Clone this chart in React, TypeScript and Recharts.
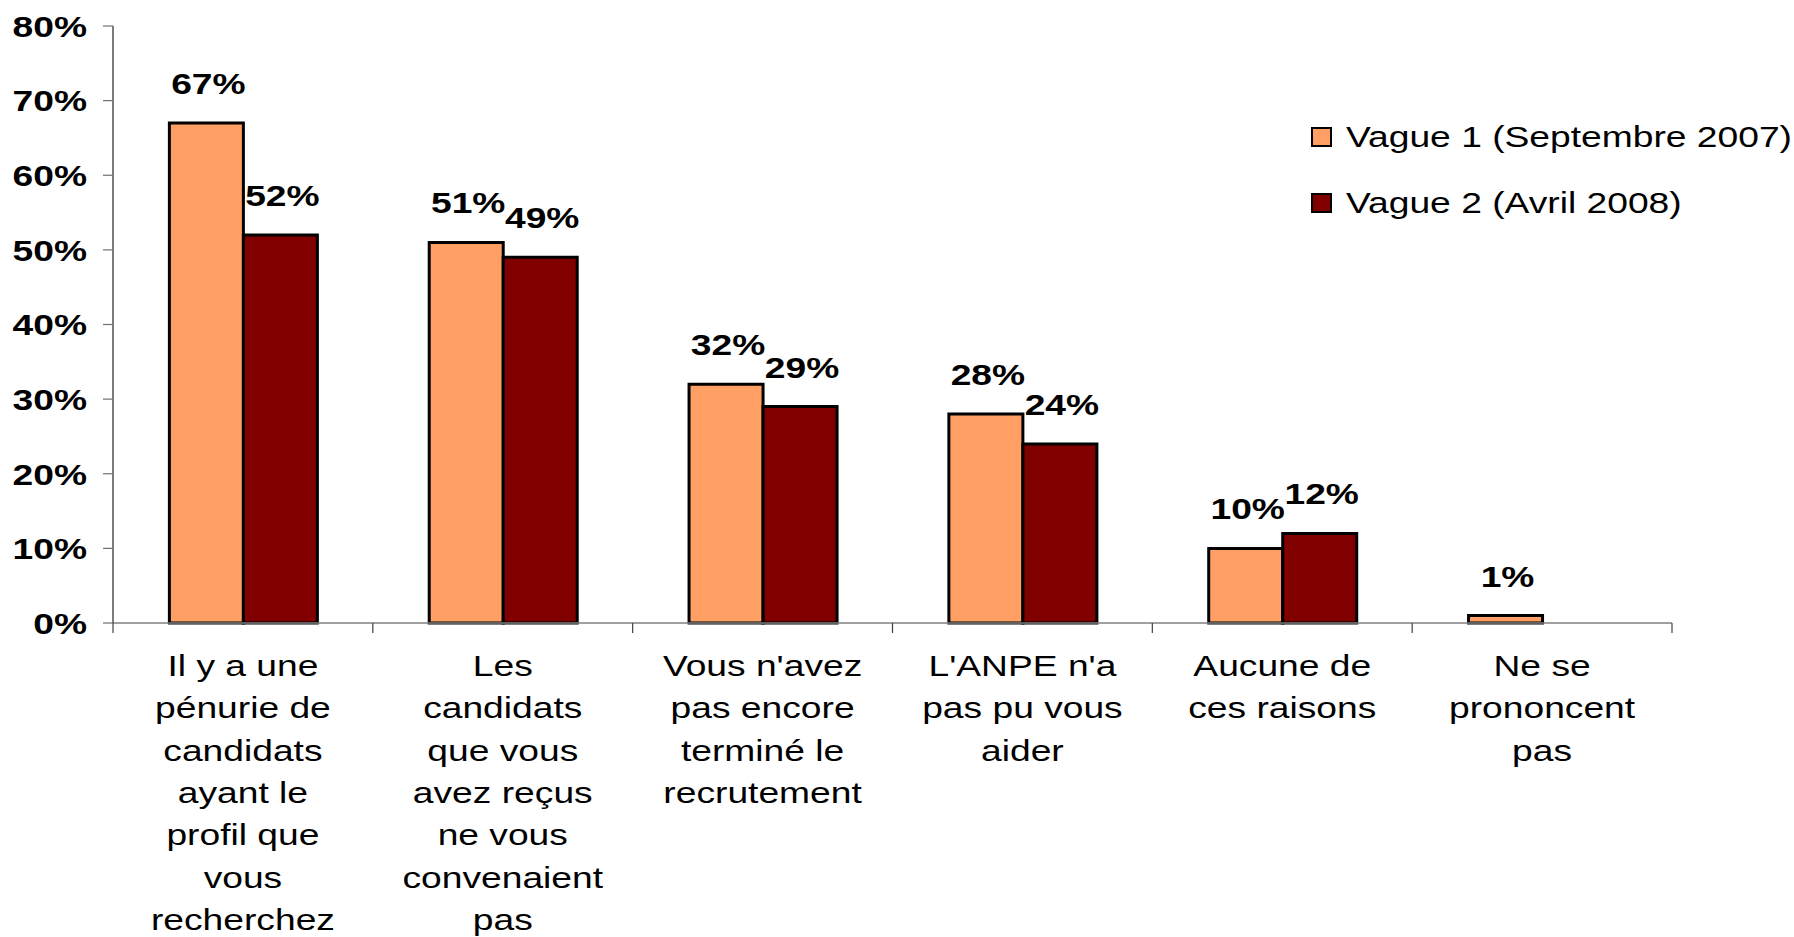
import React from 'react';
import { BarChart, Bar, XAxis, YAxis, Legend, LabelList } from 'recharts';

const categoryLines: string[][] = [
  ['Il y a une', 'pénurie de', 'candidats', 'ayant le', 'profil que', 'vous', 'recherchez'],
  ['Les', 'candidats', 'que vous', 'avez reçus', 'ne vous', 'convenaient', 'pas'],
  ["Vous n'avez", 'pas encore', 'terminé le', 'recrutement'],
  ["L'ANPE n'a", 'pas pu vous', 'aider'],
  ['Aucune de', 'ces raisons'],
  ['Ne se', 'prononcent', 'pas'],
];
const categories = categoryLines.map((l) => l.join(' '));
const vague1: (number | null)[] = [67, 51, 32, 28, 10, 1];
const vague2: (number | null)[] = [52, 49, 29, 24, 12, null];
const yTicks = [0, 10, 20, 30, 40, 50, 60, 70, 80];
const seriesNames = ['Vague 1 (Septembre 2007)', 'Vague 2 (Avril 2008)'];
const seriesColors = ['#FF9F63', '#800000'];

const data = categories.map((name, i) => ({ name, v1: vague1[i], v2: vague2[i] }));

const FONT = '"Liberation Sans", Arial, sans-serif';
const SX = 1.24;
const TICK_SIZE = 6;
const TICK_MARGIN = 2;

const YTick = (props: any) => {
  const { x, y, payload } = props;
  return (
    <text
      transform={`translate(${x},${y}) scale(${SX},1)`}
      textAnchor="end"
      dy="0.36em"
      fontFamily={FONT}
      fontWeight="bold"
      fontSize={30}
      fill="#000"
    >
      {`${payload.value}%`}
    </text>
  );
};

const XTick = (props: any) => {
  const { x, y, payload, index, visibleTicksCount, width } = props;
  const idx = categories.indexOf(payload.value);
  const lines = idx >= 0 ? categoryLines[idx] : [String(payload.value)];
  const count = visibleTicksCount || categories.length;
  const band = (typeof width === 'number' ? width : 1559) / count;
  const axisY = y - TICK_SIZE - TICK_MARGIN;
  const bx = [x - band / 2];
  if (index === count - 1) bx.push(x + band / 2);
  return (
    <g>
      {bx.map((b, k) => (
        <line key={`t${k}`} x1={b} x2={b} y1={axisY} y2={axisY + 10} stroke="#404040" strokeWidth={1.2} />
      ))}
      {lines.map((line, i) => (
        <text
          key={i}
          transform={`translate(${x},${y + 45 + i * 42.3}) scale(${SX},1)`}
          textAnchor="middle"
          fontFamily={FONT}
          fontSize={30}
          fill="#000"
        >
          {line}
        </text>
      ))}
    </g>
  );
};

const renderLabel = (props: any) => {
  const { x, y, width, value } = props;
  if (value === null || value === undefined) return null;
  return (
    <text
      transform={`translate(${x + width / 2 + 2},${y - 29}) scale(${SX},1)`}
      textAnchor="middle"
      fontFamily={FONT}
      fontWeight="bold"
      fontSize={30}
      fill="#000"
    >
      {`${value}%`}
    </text>
  );
};

const LegendContent = () => (
  <div style={{ fontFamily: FONT }}>
    {seriesNames.map((n, i) => (
      <div key={n} style={{ display: 'flex', alignItems: 'center', height: 66 }}>
        <div
          style={{
            width: 21,
            height: 20,
            boxSizing: 'border-box',
            border: '2px solid #000',
            background: seriesColors[i],
            flex: 'none',
          }}
        />
        <div
          style={{
            marginLeft: 14,
            fontSize: 30,
            lineHeight: '34px',
            whiteSpace: 'nowrap',
            transform: `scaleX(${SX})`,
            transformOrigin: 'left center',
            color: '#000',
          }}
        >
          {n}
        </div>
      </div>
    ))}
  </div>
);

export default function App() {
  return (
    <div style={{ position: 'absolute', left: 0, top: 0, width: 1794, height: 937, background: '#fff' }}>
      <BarChart
        width={1794}
        height={937}
        data={data}
        margin={{ top: 26, right: 122, bottom: 0, left: 13 }}
        barCategoryGap="21.7%"
        barGap={0}
      >
        <XAxis
          dataKey="name"
          type="category"
          height={314}
          interval={0}
          tickSize={TICK_SIZE}
          tickMargin={TICK_MARGIN}
          axisLine={{ stroke: '#808080', strokeWidth: 1.5 }}
          tickLine={false}
          tick={<XTick />}
        />
        <YAxis
          width={100}
          domain={[0, 80]}
          ticks={yTicks}
          tickSize={10}
          tickMargin={16}
          axisLine={{ stroke: '#505050', strokeWidth: 1.5 }}
          tickLine={{ stroke: '#707070', strokeWidth: 1.2 }}
          tick={<YTick />}
        />
        <Legend
          layout="vertical"
          align="center"
          verticalAlign="middle"
          wrapperStyle={{ position: 'absolute', left: 1311, top: 104, width: 483, height: 132 }}
          content={<LegendContent />}
        />
        <Bar dataKey="v1" name={seriesNames[0]} fill={seriesColors[0]} stroke="#000" strokeWidth={3} isAnimationActive={false}>
          <LabelList dataKey="v1" content={renderLabel} />
        </Bar>
        <Bar dataKey="v2" name={seriesNames[1]} fill={seriesColors[1]} stroke="#000" strokeWidth={3} isAnimationActive={false}>
          <LabelList dataKey="v2" content={renderLabel} />
        </Bar>
      </BarChart>
    </div>
  );
}
